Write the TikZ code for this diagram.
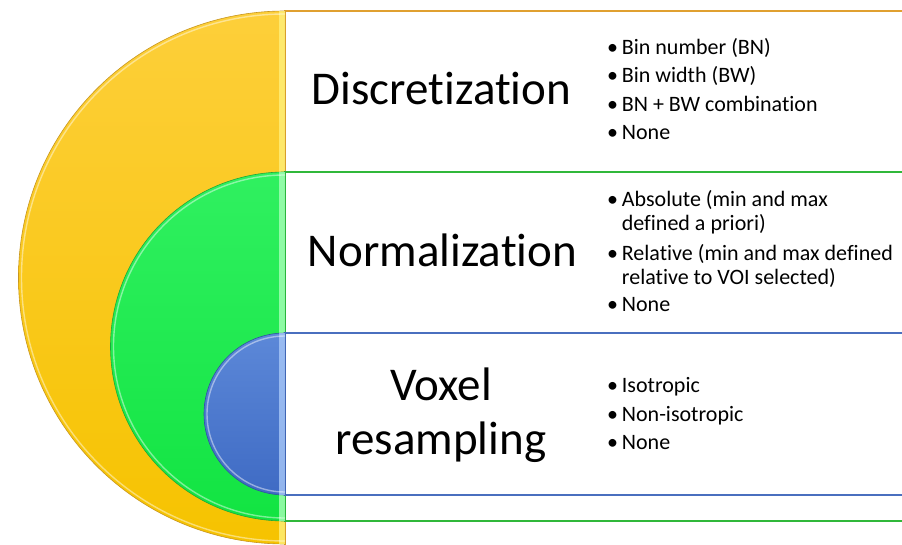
\documentclass[tikz,border=0pt]{standalone}
\usepackage{fontspec}
\setmainfont{Carlito}[Ligatures={NoCommon}]
\definecolor{yline}{HTML}{E0A030}
\definecolor{ytop}{HTML}{FDCF3A}
\definecolor{ybot}{HTML}{F6C300}
\definecolor{yedge}{HTML}{C8961E}
\definecolor{ystrip}{HTML}{FFF07A}
\definecolor{gline}{HTML}{30B83A}
\definecolor{gtop}{HTML}{30F060}
\definecolor{gbot}{HTML}{12E442}
\definecolor{gedge}{HTML}{1FA83A}
\definecolor{gstrip}{HTML}{A8FFB8}
\definecolor{bline}{HTML}{4A6FBF}
\definecolor{btop}{HTML}{5C88D8}
\definecolor{bbot}{HTML}{3F6BC4}
\definecolor{bedge}{HTML}{2F55A0}
\definecolor{bstrip}{HTML}{A8C8F8}
\begin{document}
\begin{tikzpicture}[x=1pt,y=1pt,
  title/.style={font=\fontsize{47}{56}\selectfont, inner sep=0pt, anchor=base},
  item/.style={font=\fontsize{22}{26}\selectfont, inner sep=0pt, anchor=base west},
  band/.style={fill=white, line width=1.1pt},
  hilite/.style={white, opacity=0.45, line width=1.4pt},
]
\useasboundingbox (0,0) rectangle (902,544);
\fill[white] (0,0) rectangle (902,544);

% yellow layer
\draw[band, draw=yline] (285,-5) rectangle (910,533);
\shade[top color=ytop, bottom color=ybot, draw=yedge, line width=0.6pt]
  (285,533) arc[start angle=90, end angle=270, radius=266.5] -- cycle;
\begin{scope}
  \clip (285,533) arc[start angle=90, end angle=270, radius=266.5] -- cycle;
  \fill[ystrip, opacity=0.8] (279,0) rectangle (285,533);
  \draw[hilite] (285,530) arc[start angle=90, end angle=270, radius=263.5];
\end{scope}

% green layer
\draw[band, draw=gline] (285,23) rectangle (910,372);
\shade[top color=gtop, bottom color=gbot, draw=gedge, line width=0.6pt]
  (285,372) arc[start angle=90, end angle=270, radius=174.5] -- cycle;
\begin{scope}
  \clip (285,372) arc[start angle=90, end angle=270, radius=174.5] -- cycle;
  \fill[gstrip, opacity=0.8] (279,0) rectangle (285,372);
  \draw[hilite] (285,369) arc[start angle=90, end angle=270, radius=171.5];
\end{scope}

% blue layer
\draw[band, draw=bline] (285,49) rectangle (910,211);
\shade[top color=btop, bottom color=bbot, draw=bedge, line width=0.6pt]
  (285,211) arc[start angle=90, end angle=270, radius=81] -- cycle;
\begin{scope}
  \clip (285,211) arc[start angle=90, end angle=270, radius=81] -- cycle;
  \fill[bstrip, opacity=0.8] (279,0) rectangle (285,211);
  \draw[hilite] (285,208) arc[start angle=90, end angle=270, radius=78];
\end{scope}

% titles
\node[title] (t1) at (441.5,439) {Discretization};
\node[title] (t2) at (442.5,277) {Normalization};
\node[title] (t3a) at (441,144) {Voxel};
\node[title] (t3b) at (441,90) {resampling};

% discretization items
\node[item] (d1) at (607,489) {\makebox[14.7pt][l]{•}Bin number (BN)};
\node[item] (d2) at (607,461) {\makebox[14.7pt][l]{•}Bin width (BW)};
\node[item] (d3) at (607,432) {\makebox[14.7pt][l]{•}BN + BW combination};
\node[item] (d4) at (607,404) {\makebox[14.7pt][l]{•}None};

% normalization items
\node[item] (n1) at (607,337) {\makebox[14.7pt][l]{•}Absolute (min and max};
\node[item] (n1b) at (621.7,313) {defined a priori)};
\node[item] (n2) at (607,283) {\makebox[14.7pt][l]{•}Relative (min and max defined};
\node[item] (n2b) at (621.7,259) {relative to VOI selected)};
\node[item] (n3) at (607,232) {\makebox[14.7pt][l]{•}None};

% voxel resampling items
\node[item] (v1) at (607,152) {\makebox[14.7pt][l]{•}Isotropic};
\node[item] (v2) at (607,123) {\makebox[14.7pt][l]{•}Non-isotropic};
\node[item] (v3) at (607,95) {\makebox[14.7pt][l]{•}None};
\end{tikzpicture}
\end{document}
